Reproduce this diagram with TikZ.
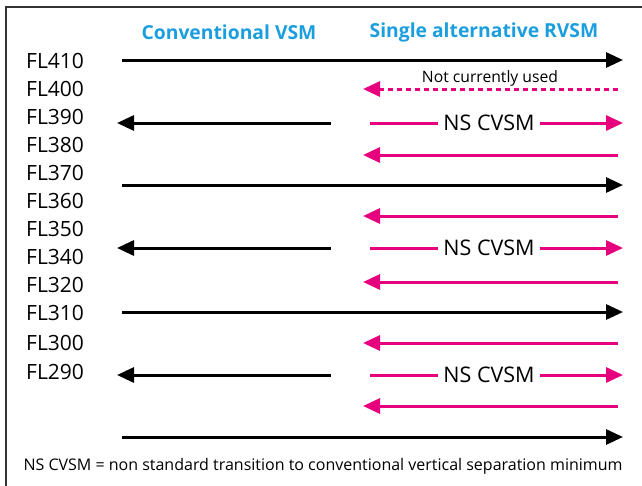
\documentclass[tikz,border=0pt]{standalone}
\usepackage{xcolor}
\usepackage{fontspec}
\setmainfont{Open Sans}
\usepackage{tikz}
\usetikzlibrary{positioning,arrows.meta}
\definecolor{rvsmpink}{RGB}{230,0,126}
\definecolor{headblue}{RGB}{27,158,222}

\begin{document}
\begin{tikzpicture}[x=1pt, y=-1pt]
            \tikzstyle{level} = [anchor=west, inner sep=0, font=\fontsize{21}{21}\selectfont];
            \tikzstyle{head} = [inner sep=0, font=\fontsize{19.3}{19.3}\selectfont\bfseries, text=headblue];
            \tikzstyle{flow} = [line width=3pt, -{Triangle[length=17pt,width=15pt]}];
            \tikzstyle{plain} = [line width=3pt];
            \useasboundingbox (0,0) rectangle (642,485);
            \draw [line width=1.5pt, black!80] (6,7) rectangle (660,500);

            \node [head] (H1) at (229,32) {Conventional VSM};
            \node [head] (H2) at (484,32) {Single alternative RVSM};

            \foreach \fl/\y in {410/61, 400/89, 390/117, 380/145, 370/173, 360/201,
                                350/229, 340/257, 320/285, 310/313, 300/343, 290/372}
                \node [level] (FL\fl) at (26,\y) {FL\fl};

            % cruising levels, whole width
            \foreach \i/\y in {1/60, 2/185, 3/312, 4/437} {
                \coordinate (B\i s) at (122,\y);
                \coordinate (B\i e) at (623,\y);
                \draw [flow] (B\i s) to (B\i e);
            }

            % opposite direction, alternative only
            \foreach \i/\y in {1/155, 2/216, 3/282, 4/343, 5/406} {
                \coordinate (P\i s) at (618,\y);
                \coordinate (P\i e) at (363,\y);
                \draw [flow, rvsmpink] (P\i s) to (P\i e);
            }

            \coordinate (D0s) at (618,89);
            \coordinate (D0e) at (363,89);
            \node [font=\fontsize{15.7}{15.7}\selectfont, inner sep=0] (unused) at (490,78) {Not currently used};
            \draw [flow, rvsmpink, dash pattern=on 5pt off 4pt] (D0s) to (D0e);

            % non standard transitions
            \foreach \i/\y in {1/123, 2/248, 3/375} {
                \coordinate (C\i s) at (331,\y);
                \coordinate (C\i e) at (117,\y);
                \draw [flow] (C\i s) to (C\i e);
                \coordinate (N\i s) at (370,\y);
                \coordinate (N\i e) at (623,\y);
                \node [font=\fontsize{21.5}{21.5}\selectfont, inner xsep=5pt, inner ysep=0] (NS\i) at (489,\y) {NS CVSM};
                \draw [plain, rvsmpink] (N\i s) to (NS\i.west);
                \draw [flow, rvsmpink] (NS\i.east) to (N\i e);
            }

            \node [font=\fontsize{16}{16}\selectfont, inner sep=0] (key) at (323,466)
                {NS CVSM = non standard transition to conventional vertical separation minimum};
        \end{tikzpicture}
\end{document}
